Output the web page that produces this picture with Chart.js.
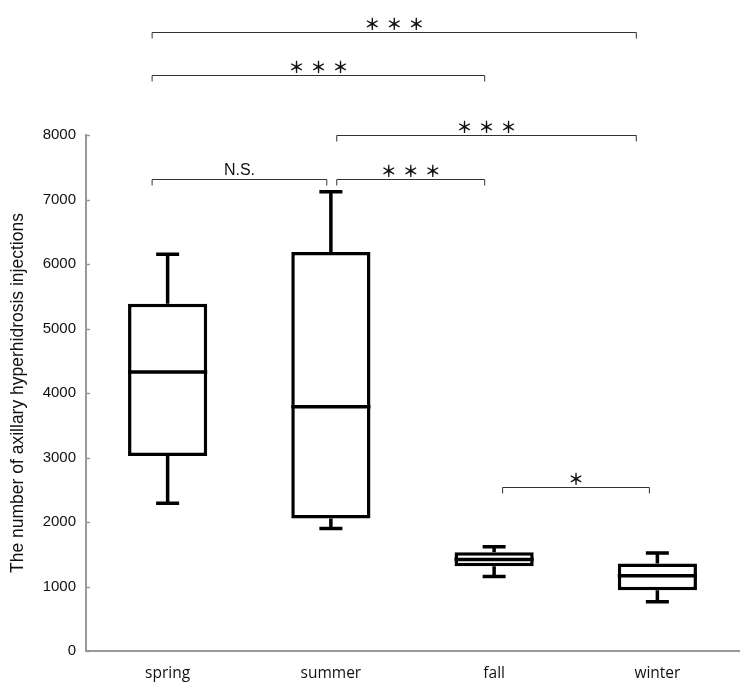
<!DOCTYPE html>
<html>
<head>
<meta charset="utf-8">
<script src="https://cdn.jsdelivr.net/npm/chart.js@4/dist/chart.umd.min.js"></script>
<style>
html, body { margin: 0; padding: 0; background: #fff; }
#caja { width: 750px; height: 692px; }
</style>
</head>
<body>
<div id="caja"><canvas id="G1"></canvas></div>
<script>
// values
var seasons = ["spring", "summer", "fall", "winter"];
var whiskerLow  = [2290, 1900, 1155, 765];
var quartile1   = [3025, 2055, 1315, 940];
var medians     = [4325, 3785, 1420, 1165];
var quartile3   = [5385, 6185, 1530, 1355];
var whiskerHigh = [6150, 7120, 1615, 1520];
var yTicks = [0, 1000, 2000, 3000, 4000, 5000, 6000, 7000, 8000];

// significance comparisons: [from, to, label]
var pairs = [[0, 3, "***"], [0, 2, "***"], [1, 3, "***"], [0, 1, "N.S."], [1, 2, "***"], [2, 3, "*"]];

// where the brackets sit (y in axis units, ends as category offsets)
var bracketLevel = [9600, 8935, 8005, 7320, 7320, 2550];
var bracketEnds = [[-0.095, -0.129], [-0.095, -0.058], [0.036, -0.129], [-0.095, -0.025], [0.036, -0.058], [0.052, -0.049]];

var boxes = seasons.map(function (s, i) { return [quartile1[i], quartile3[i]]; });

var boxPlugin = {
    id: "boxExtras",
    afterDatasetsDraw: function (chart) {
        var ctx = chart.ctx;
        var xs = chart.scales.x, ys = chart.scales.y;
        var meta = chart.getDatasetMeta(0);
        ctx.save();
        // whiskers + medians
        ctx.strokeStyle = "#000";
        ctx.lineWidth = 3.5;
        ctx.lineCap = "butt";
        for (var i = 0; i < seasons.length; i++) {
            var x = xs.getPixelForValue(i);
            var half = meta.data[i].width / 2;
            var cap = 11.5;
            ctx.beginPath();
            ctx.moveTo(x, ys.getPixelForValue(quartile3[i]));
            ctx.lineTo(x, ys.getPixelForValue(whiskerHigh[i]));
            ctx.moveTo(x - cap, ys.getPixelForValue(whiskerHigh[i]));
            ctx.lineTo(x + cap, ys.getPixelForValue(whiskerHigh[i]));
            ctx.moveTo(x, ys.getPixelForValue(quartile1[i]));
            ctx.lineTo(x, ys.getPixelForValue(whiskerLow[i]));
            ctx.moveTo(x - cap, ys.getPixelForValue(whiskerLow[i]));
            ctx.lineTo(x + cap, ys.getPixelForValue(whiskerLow[i]));
            ctx.moveTo(x - half, ys.getPixelForValue(medians[i]));
            ctx.lineTo(x + half, ys.getPixelForValue(medians[i]));
            ctx.stroke();
        }
        // little inside ticks on the y axis
        ctx.strokeStyle = "#999";
        ctx.lineWidth = 1.5;
        yTicks.forEach(function (v) {
            var y = Math.round(ys.getPixelForValue(v)) + 0.5;
            ctx.beginPath();
            ctx.moveTo(xs.left, y);
            ctx.lineTo(xs.left + 4, y);
            ctx.stroke();
        });
        // significance brackets
        ctx.strokeStyle = "#333";
        ctx.lineWidth = 1;
        ctx.fillStyle = "#111";
        ctx.textAlign = "center";
        ctx.textBaseline = "middle";
        pairs.forEach(function (p, k) {
            var x1 = xs.getPixelForValue(p[0] + bracketEnds[k][0]);
            var x2 = xs.getPixelForValue(p[1] + bracketEnds[k][1]);
            var y = Math.round(ys.getPixelForValue(bracketLevel[k])) + 0.5;
            var mid = (x1 + x2) / 2;
            ctx.beginPath();
            ctx.moveTo(x1, y + 6);
            ctx.lineTo(x1, y);
            ctx.lineTo(x2, y);
            ctx.lineTo(x2, y + 6);
            ctx.stroke();
            if (p[2] === "N.S.") {
                ctx.font = "16px 'Liberation Sans', Arial, sans-serif";
                ctx.fillText(p[2], mid, y - 9);
            } else {
                // spaced-out stars
                ctx.font = "bold 16px 'Noto Sans CJK JP', sans-serif";
                var n = p[2].length;
                for (var j = 0; j < n; j++) {
                    ctx.fillText("＊", mid + (j - (n - 1) / 2) * 22, y - 9);
                }
            }
        });
        ctx.restore();
    }
};

var grafico = new Chart(document.getElementById("G1").getContext("2d"), {
    type: "bar",
    data: {
        labels: seasons,
        datasets: [{
            data: boxes,
            backgroundColor: "#fff",
            borderColor: "#000",
            borderWidth: 3.5,
            borderSkipped: false,
            categoryPercentage: 1,
            barPercentage: 0.485
        }]
    },
    options: {
        responsive: true,
        maintainAspectRatio: false,
        animation: false,
        layout: { padding: { top: 135, right: 11, left: 0, bottom: 0 } },
        plugins: { legend: { display: false }, tooltip: { enabled: false } },
        scales: {
            x: {
                grid: { display: false, drawTicks: false },
                border: { color: "#999", width: 2 },
                ticks: { color: "#111", padding: 13, font: { family: "'Open Sans'", size: 15.5 } },
                afterFit: function (s) { s.height = 41; }
            },
            y: {
                min: 0,
                max: 8000,
                afterBuildTicks: function (s) { s.ticks = yTicks.map(function (v) { return { value: v }; }); },
                grid: { display: false, drawTicks: false },
                border: { color: "#999", width: 2 },
                ticks: {
                    color: "#111",
                    padding: 10,
                    font: { family: "'Liberation Sans'", size: 15 },
                    callback: function (v) { return String(v); }
                },
                title: {
                    display: true,
                    text: "The number of axillary hyperhidrosis injections",
                    color: "#111",
                    font: { family: "'Liberation Sans'", size: 17.5 },
                    padding: { top: 8, bottom: 0 }
                },
                afterFit: function (s) { s.width = 86; }
            }
        }
    },
    plugins: [boxPlugin]
});
</script>
</body>
</html>
